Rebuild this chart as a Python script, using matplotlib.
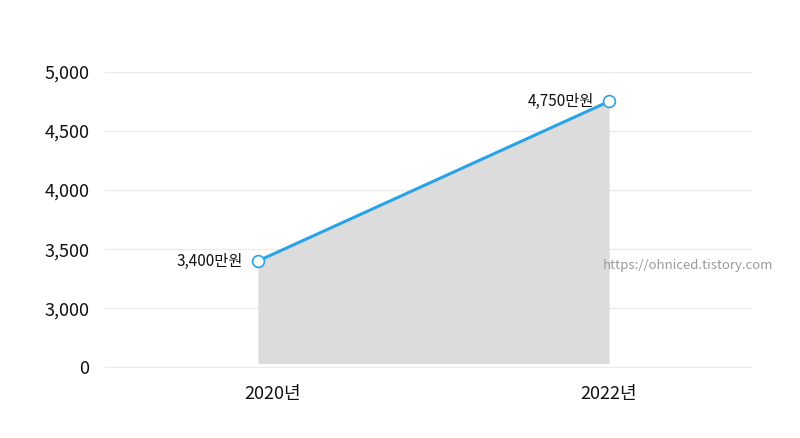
import numpy as np
import matplotlib
matplotlib.use("Agg")
from matplotlib import pyplot as plt
from matplotlib.transforms import ScaledTranslation

plt.rcParams['font.family'] = ['Noto Sans CJK KR', 'DejaVu Sans']

years = ['2020년', '2022년']
values = [3400, 4750]
labels = ['3,400만원', '4,750만원']
yticks = [0, 3000, 3500, 4000, 4500, 5000]
ytick_labels = ['0', '3,000', '3,500', '4,000', '4,500', '5,000']
fill_base = 200


# broken axis: 0 -> 0, 3000.. -> 1.. (500 per step)
def fwd(v):
    v = np.asarray(v, dtype=float)
    return np.where(v < 3000, v / 3000, 1 + (v - 3000) / 500)


def inv(p):
    p = np.asarray(p, dtype=float)
    return np.where(p < 1, p * 3000, 3000 + (p - 1) * 500)


fig = plt.figure(figsize=(8, 4.38), dpi=100)
ax = fig.add_axes([0.131, 0.16, 0.809, 0.676])
ax.set_yscale('function', functions=(fwd, inv))

x = np.arange(len(years))
ax.fill_between(x, [fill_base] * len(x), values, color='#dcdcdc', lw=0, zorder=1)
ax.plot(x, values, color='#29a3e6', lw=2.2, marker='o', ms=8.5,
        mfc='white', mec='#29a3e6', mew=1.2, zorder=3)
for xi, v, t in zip(x, values, labels):
    ax.annotate(t, (xi, v), xytext=(-11, 0), textcoords='offset points',
                ha='right', va='center', fontsize=11, color='#111111')

ax.set_xlim(-0.436, 1.407)
ax.set_ylim(-25, 5000)
ax.set_yticks(yticks)
ax.set_yticklabels(ytick_labels)
ax.set_xticks(x)
ax.set_xticklabels(years)
ax.grid(axis='y', color='#ebebeb', lw=1)
ax.set_axisbelow(True)
for s in ax.spines.values():
    s.set_visible(False)
ax.tick_params(axis='both', length=0, labelsize=13, colors='#111111')
ax.tick_params(axis='y', pad=11)
ax.tick_params(axis='x', pad=12)

# first category label sits a bit right of its point in the original
lbl = ax.get_xticklabels()[0]
lbl.set_transform(lbl.get_transform() + ScaledTranslation(0.15, 0, fig.dpi_scale_trans))

fig.text(603 / 800, 1 - 266 / 438, 'https://ohniced.tistory.com',
         ha='left', va='center', fontsize=9.5, color='#9a9a9a')

fig.savefig('out.png', dpi=100)
